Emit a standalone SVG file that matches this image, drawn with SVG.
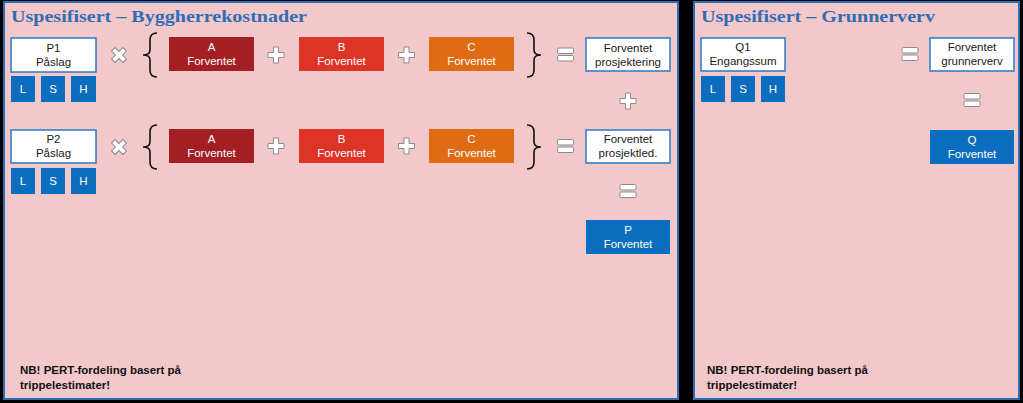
<svg xmlns="http://www.w3.org/2000/svg" width="1023" height="403" viewBox="0 0 1023 403">
<defs>
<style>
.panel{fill:#f3c8ca;stroke:#2f6db3;stroke-width:2}
.title{font-family:"Liberation Serif","Times New Roman",serif;font-weight:bold;font-size:17.5px;fill:#2e6db4}
.wbox{fill:#ffffff;stroke:#2b78c6;stroke-width:1.5}
.bbox{fill:#0b6dbd}
.t{font-family:"Liberation Sans",Arial,sans-serif;font-size:11.5px;text-anchor:middle}
.tk{fill:#1a1a1a}
.tw{fill:#ffffff}
.nb{font-family:"Liberation Sans",Arial,sans-serif;font-size:11.5px;font-weight:bold;fill:#111}
.sym{fill:#ffffff;stroke:#8c8c8c;stroke-width:1}
.brace{fill:none;stroke:#111;stroke-width:1.6}
</style>
<path id="plus" class="sym" d="M-2.5,-8 H2.5 V-2.5 H8 V2.5 H2.5 V8 H-2.5 V2.5 H-8 V-2.5 H-2.5 Z"/>
<g id="eq">
<rect class="sym" x="-8" y="-6.5" width="16" height="5.5" rx="1.2"/>
<rect class="sym" x="-8" y="1" width="16" height="5.5" rx="1.2"/>
</g>
<path id="lbrace" class="brace" d="M157,33 Q150,33 150,40 V50 Q150,55 143,55 Q150,55 150,60 V70 Q150,77 157,77"/>
<path id="rbrace" class="brace" d="M527,33 Q534,33 534,40 V50 Q534,55 541,55 Q534,55 534,60 V70 Q534,77 527,77"/>
</defs>
<rect x="0" y="0" width="1023" height="403" fill="#000"/>
<rect class="panel" x="4" y="2" width="674" height="397"/>
<rect class="panel" x="694" y="2" width="325" height="397"/>
<text class="title" x="11" y="22" textLength="296" lengthAdjust="spacingAndGlyphs">Uspesifisert – Byggherrekostnader</text>
<text class="title" x="701" y="22" textLength="234" lengthAdjust="spacingAndGlyphs">Uspesifisert – Grunnerverv</text>

<g id="p1">
<rect class="wbox" x="11" y="38" width="85" height="34"/>
<text class="t tk" x="53.5" y="52">P1</text>
<text class="t tk" x="53.5" y="66">Påslag</text>
</g>
<g id="p1-lsh">
<rect class="bbox" x="11" y="76" width="24" height="26"/><text class="t tw" x="23" y="93">L</text>
<rect class="bbox" x="41" y="76" width="24" height="26"/><text class="t tw" x="53" y="93">S</text>
<rect class="bbox" x="71" y="76" width="25" height="26"/><text class="t tw" x="83.5" y="93">H</text>
</g>
<g id="a1"><rect x="169" y="37" width="85" height="34" fill="#a31f24"/><text class="t tw" x="211.5" y="51">A</text><text class="t tw" x="211.5" y="65">Forventet</text></g>
<g id="b1"><rect x="299" y="37" width="85" height="34" fill="#de3427"/><text class="t tw" x="341.5" y="51">B</text><text class="t tw" x="341.5" y="65">Forventet</text></g>
<g id="c1"><rect x="429" y="37" width="85" height="34" fill="#df6c12"/><text class="t tw" x="471.5" y="51">C</text><text class="t tw" x="471.5" y="65">Forventet</text></g>
<g id="fp1"><rect class="wbox" x="586" y="38" width="84" height="33"/><text class="t tk" x="628" y="52">Forventet</text><text class="t tk" x="628" y="66">prosjektering</text></g>

<g id="p2">
<rect class="wbox" x="11" y="130" width="85" height="33"/>
<text class="t tk" x="53.5" y="143">P2</text>
<text class="t tk" x="53.5" y="157">Påslag</text>
</g>
<g id="p2-lsh">
<rect class="bbox" x="11" y="168" width="24" height="26"/><text class="t tw" x="23" y="185">L</text>
<rect class="bbox" x="41" y="168" width="24" height="26"/><text class="t tw" x="53" y="185">S</text>
<rect class="bbox" x="71" y="168" width="25" height="26"/><text class="t tw" x="83.5" y="185">H</text>
</g>
<g id="a2"><rect x="169" y="129" width="85" height="34" fill="#a31f24"/><text class="t tw" x="211.5" y="143">A</text><text class="t tw" x="211.5" y="157">Forventet</text></g>
<g id="b2"><rect x="299" y="129" width="85" height="34" fill="#de3427"/><text class="t tw" x="341.5" y="143">B</text><text class="t tw" x="341.5" y="157">Forventet</text></g>
<g id="c2"><rect x="429" y="129" width="85" height="34" fill="#df6c12"/><text class="t tw" x="471.5" y="143">C</text><text class="t tw" x="471.5" y="157">Forventet</text></g>
<g id="fp2"><rect class="wbox" x="586" y="130" width="84" height="33"/><text class="t tk" x="628" y="143">Forventet</text><text class="t tk" x="628" y="157">prosjektled.</text></g>
<g id="pf"><rect class="bbox" x="586" y="220" width="84" height="34"/><text class="t tw" x="628" y="234">P</text><text class="t tw" x="628" y="248">Forventet</text></g>

<g id="q1">
<rect class="wbox" x="701" y="38" width="84" height="33"/>
<text class="t tk" x="743" y="51">Q1</text>
<text class="t tk" x="743" y="65">Engangssum</text>
</g>
<g id="q1-lsh">
<rect class="bbox" x="701" y="76" width="24" height="26"/><text class="t tw" x="713" y="93">L</text>
<rect class="bbox" x="731" y="76" width="24" height="26"/><text class="t tw" x="743" y="93">S</text>
<rect class="bbox" x="761" y="76" width="24" height="26"/><text class="t tw" x="773" y="93">H</text>
</g>
<g id="fg"><rect class="wbox" x="930" y="38" width="84" height="33"/><text class="t tk" x="972" y="51">Forventet</text><text class="t tk" x="972" y="65">grunnerverv</text></g>
<g id="qf"><rect class="bbox" x="930" y="130" width="84" height="34"/><text class="t tw" x="972" y="144">Q</text><text class="t tw" x="972" y="158">Forventet</text></g>

<g id="connectors">
<use href="#plus" transform="translate(119,55) rotate(45)"/>
<use href="#lbrace"/>
<use href="#plus" x="276" y="55"/>
<use href="#plus" x="406.5" y="55"/>
<use href="#rbrace"/>
<use href="#eq" x="565.5" y="54.5"/>
<use href="#plus" x="628" y="101"/>

<use href="#plus" transform="translate(119,147) rotate(45)"/>
<use href="#lbrace" y="92"/>
<use href="#plus" x="276" y="146"/>
<use href="#plus" x="406.5" y="146"/>
<use href="#rbrace" y="92"/>
<use href="#eq" x="565.5" y="146"/>
<use href="#eq" x="628" y="191"/>

<use href="#eq" x="910" y="54"/>
<use href="#eq" x="972" y="100"/>
</g>

<text class="nb" x="20" y="374">NB! PERT-fordeling basert på</text>
<text class="nb" x="20" y="389">trippelestimater!</text>
<text class="nb" x="707" y="374">NB! PERT-fordeling basert på</text>
<text class="nb" x="707" y="389">trippelestimater!</text>
</svg>
